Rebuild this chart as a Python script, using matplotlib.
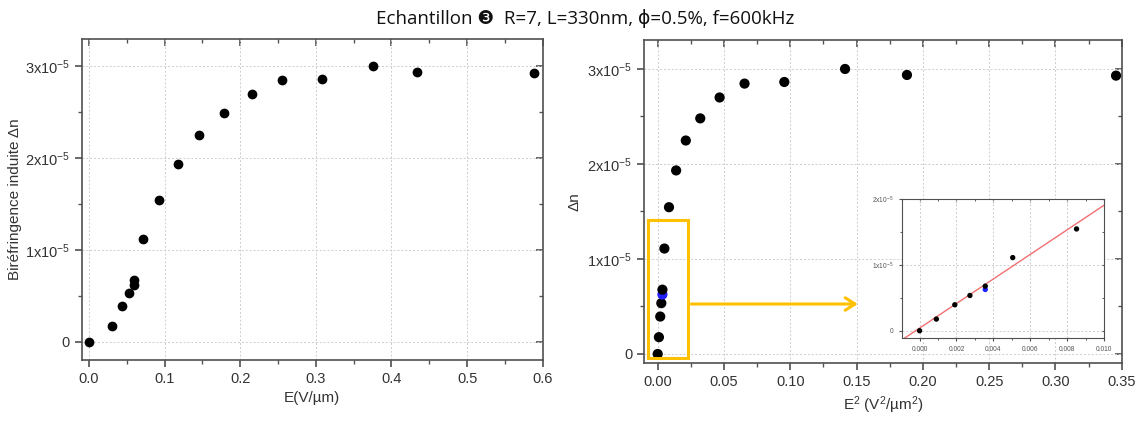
import numpy as np
import matplotlib.pyplot as plt
from matplotlib.ticker import MultipleLocator, FixedLocator
from matplotlib.patches import Rectangle

plt.rcParams['font.family'] = ['Liberation Sans', 'DejaVu Sans']
plt.rcParams['mathtext.default'] = 'regular'

# E field (V/um) and induced birefringence (left panel)
E = [0, 0.0304, 0.0436, 0.0524, 0.0595, 0.0595, 0.0714, 0.092, 0.118,
     0.1454, 0.179, 0.2159, 0.255, 0.3084, 0.3759, 0.4337, 0.588]
dn = np.array([0, 0.174, 0.391, 0.533, 0.62, 0.674, 1.112, 1.54, 1.933,
               2.249, 2.485, 2.70, 2.847, 2.862, 3.0, 2.934, 2.927]) * 1e-5

# E^2 (V^2/um^2) and birefringence (right panel)
E2 = np.array([0, 0.00091, 0.00191, 0.00273, 0.00356, 0.00356, 0.00505, 0.00851,
               0.0139, 0.0212, 0.0321, 0.0467, 0.0655, 0.0955, 0.1413, 0.188, 0.3457])
dn2 = np.array([0, 0.177, 0.394, 0.535, 0.626, 0.677, 1.11, 1.545, 1.932,
                2.247, 2.48, 2.70, 2.846, 2.863, 3.0, 2.937, 2.93]) * 1e-5
blue_idx = 4

# linear fit shown in the inset
fit_slope = 1.865e-3
fit_intercept = 0.04e-5

yticks_main = [0, 1e-5, 2e-5, 3e-5]
ylabels_main = ['0', '$1x10^{-5}$', '$2x10^{-5}$', '$3x10^{-5}$']
yticks_inset = [0, 1e-5, 2e-5]
ylabels_inset = ['0', '$1x10^{-5}$', '$2x10^{-5}$']

title = 'Echantillon \u2778  R=7, L=330nm, \u03d5=0.5%, f=600kHz'

spine_col = '#505050'
txt_col = '#333333'
orange = '#FFC000'


def style(ax, xmajor, xminor, ymajor, yminor, size, tl_major, tl_minor, lw=1.2):
    ax.xaxis.set_major_locator(MultipleLocator(xmajor))
    ax.xaxis.set_minor_locator(MultipleLocator(xminor))
    ax.yaxis.set_major_locator(MultipleLocator(ymajor))
    ax.yaxis.set_minor_locator(MultipleLocator(yminor))
    for s in ax.spines.values():
        s.set_color(spine_col)
        s.set_linewidth(lw)
    ax.tick_params(which='major', direction='out', length=tl_major, width=lw,
                   color=spine_col, labelsize=size, labelcolor=txt_col)
    ax.tick_params(which='minor', direction='out', length=tl_minor, width=lw * 0.8,
                   color=spine_col)
    ax.grid(True, which='major', color='#cccccc', linestyle=(0, (2, 2)), linewidth=0.7)
    ax.set_axisbelow(True)
    # mirrored ticks pointing inward on top and right
    top = ax.secondary_xaxis('top')
    top.xaxis.set_major_locator(MultipleLocator(xmajor))
    top.xaxis.set_minor_locator(MultipleLocator(xminor))
    top.tick_params(which='major', direction='in', length=tl_major, width=lw,
                    color=spine_col, labeltop=False)
    top.tick_params(which='minor', direction='in', length=tl_minor, width=lw * 0.8,
                    color=spine_col)
    top.spines['top'].set_visible(False)
    right = ax.secondary_yaxis('right')
    right.yaxis.set_major_locator(MultipleLocator(ymajor))
    right.yaxis.set_minor_locator(MultipleLocator(yminor))
    right.tick_params(which='major', direction='in', length=tl_major, width=lw,
                      color=spine_col, labelright=False)
    right.tick_params(which='minor', direction='in', length=tl_minor, width=lw * 0.8,
                      color=spine_col)
    right.spines['right'].set_visible(False)


fig = plt.figure(figsize=(11.43, 4.22), dpi=100)

# left panel
ax1 = fig.add_axes([0.0715, 0.1469, 0.4033, 0.760])
ax1.scatter(E, dn, s=36, color='black', zorder=3, clip_on=False)
ax1.set_xlim(-0.0096, 0.6)
ax1.set_ylim(-0.2e-5, 3.29e-5)
style(ax1, 0.1, 0.05, 1e-5, 0.5e-5, 10.5, 5, 3)
ax1.yaxis.set_major_locator(FixedLocator(yticks_main))
ax1.set_yticklabels(ylabels_main)
ax1.set_xticks([0, 0.1, 0.2, 0.3, 0.4, 0.5, 0.6])
ax1.set_xticklabels(['0.0', '0.1', '0.2', '0.3', '0.4', '0.5', '0.6'])
ax1.set_xlabel('E(V/\u00b5m)', fontsize=11, color=txt_col)
ax1.set_ylabel('Bir\u00e9fringence induite \u0394n', fontsize=11, color=txt_col, labelpad=2)

# right panel
ax2 = fig.add_axes([0.5637, 0.1391, 0.4177, 0.765])
colors = ['black'] * len(E2)
colors[blue_idx] = '#1f1fff'
ax2.scatter(E2, dn2, s=40, c=colors, zorder=3, clip_on=False)
ax2.set_xlim(-0.0101, 0.35)
ax2.set_ylim(-0.098e-5, 3.30e-5)
style(ax2, 0.05, 0.025, 1e-5, 0.5e-5, 10.5, 5, 3)
ax2.yaxis.set_major_locator(FixedLocator(yticks_main))
ax2.set_yticklabels(ylabels_main)
ax2.set_xticks([0, 0.05, 0.1, 0.15, 0.2, 0.25, 0.3, 0.35])
ax2.set_xticklabels(['0.00', '0.05', '0.10', '0.15', '0.20', '0.25', '0.30', '0.35'])
ax2.set_xlabel('E$^2$ (V$^2$/\u00b5m$^2$)', fontsize=11, color=txt_col)
ax2.set_ylabel('\u0394n', fontsize=11, color=txt_col)

ax2.add_patch(Rectangle((-0.0075, -0.045e-5), 0.0306, 1.455e-5, fill=False,
                        edgecolor=orange, linewidth=2.2, zorder=4, clip_on=False))
ax2.annotate('', xy=(0.153, 0.526e-5), xytext=(0.0231, 0.526e-5),
             arrowprops=dict(arrowstyle='->,head_length=0.7,head_width=0.45',
                             color=orange, lw=2.2), zorder=4)

# inset
ax3 = fig.add_axes([0.7892, 0.1991, 0.1767, 0.3294], zorder=5)
ax3.set_facecolor('white')
sel = E2 <= 0.01
ins_colors = [c for c, m in zip(colors, sel) if m]
ax3.scatter(E2[sel], dn2[sel], s=8, c=ins_colors, zorder=3)
xs = np.array([-0.001, 0.0101])
ax3.plot(xs, fit_slope * xs + fit_intercept, color='#f07070', lw=1.0, zorder=2)
ax3.set_xlim(-0.00095, 0.010)
ax3.set_ylim(-0.11e-5, 2.0e-5)
style(ax3, 0.002, 0.001, 1e-5, 0.5e-5, 4.8, 2.5, 1.5, lw=0.8)
ax3.yaxis.set_major_locator(FixedLocator(yticks_inset))
ax3.set_yticklabels(ylabels_inset)
ax3.set_xticks([0, 0.002, 0.004, 0.006, 0.008, 0.010])
ax3.set_xticklabels(['0.000', '0.002', '0.004', '0.006', '0.008', '0.010'])
ax3.tick_params(labelcolor='#555555')

fig.text(0.512, 0.955, title, ha='center', va='center', fontsize=13.5,
         family=['Open Sans', 'DejaVu Sans'], color='#111111')

fig.savefig('out.png', dpi=100)
